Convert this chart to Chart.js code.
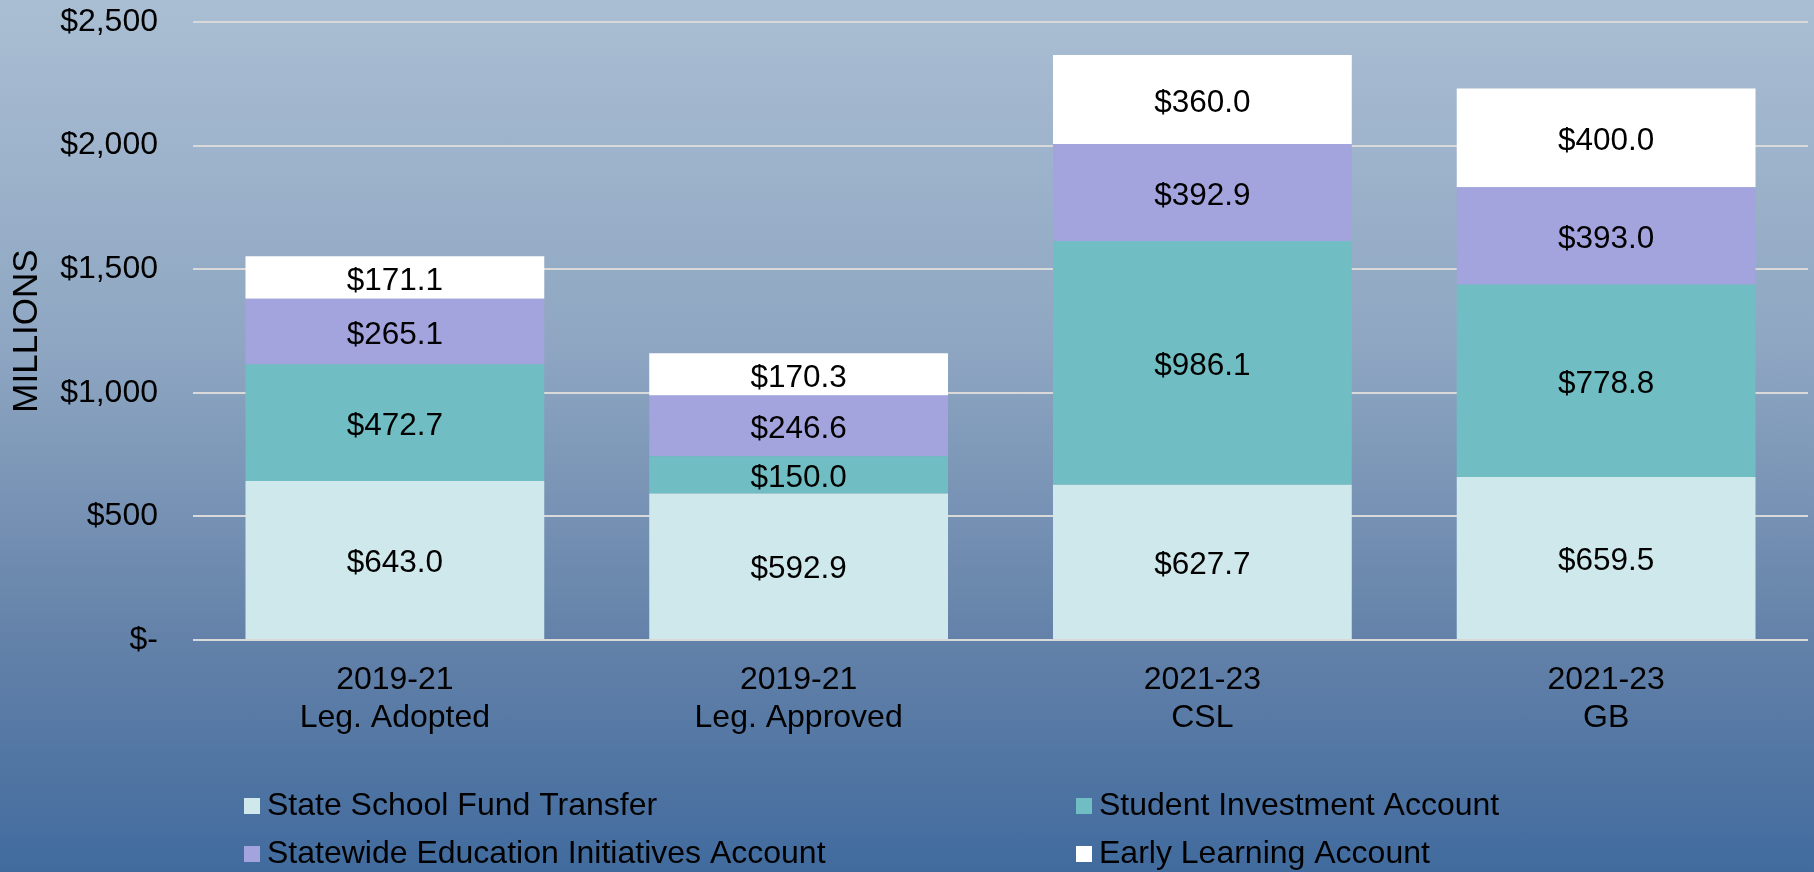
<!DOCTYPE html>
<html>
<head>
<meta charset="utf-8">
<script src="https://cdn.jsdelivr.net/npm/chart.js@4"></script>
<style>
    html, body { margin: 0; padding: 0; }
    body {
        width: 1814px;
        height: 872px;
        overflow: hidden;
        background: linear-gradient(to bottom, #aabed3 0%, #8ea6c2 40%, #6482a9 73%, #416b9e 100%);
    }
    #wrap { position: relative; width: 1814px; height: 872px; }
</style>
</head>
<body>
<div id="wrap"><canvas id="fundChart" width="1814" height="872"></canvas></div>
<script>
const categories = [
    ["2019-21", "Leg. Adopted"],
    ["2019-21", "Leg. Approved"],
    ["2021-23", "CSL"],
    ["2021-23", "GB"],
];
const seriesNames = [
    "State School Fund Transfer",
    "Student Investment Account",
    "Statewide Education Initiatives Account",
    "Early Learning Account",
];
const stateSchoolFund = [643.0, 592.9, 627.7, 659.5];
const studentInvestment = [472.7, 150.0, 986.1, 778.8];
const statewideInitiatives = [265.1, 246.6, 392.9, 393.0];
const earlyLearning = [171.1, 170.3, 360.0, 400.0];
const yTicks = [0, 500, 1000, 1500, 2000, 2500];
const seriesColors = ["#cfe8eb", "#70bec3", "#a3a3dd", "#ffffff"];

const FONT = "'Liberation Sans', Arial, sans-serif";

function money(v) {
    if (v === 0) return "$-";
    return "$" + v.toLocaleString("en-US");
}

// value labels in the middle of each segment
const segmentLabels = {
    id: "segmentLabels",
    afterDatasetsDraw(chart) {
        const ctx = chart.ctx;
        ctx.save();
        ctx.font = "31.5px " + FONT;
        ctx.fillStyle = "#000";
        ctx.textAlign = "center";
        ctx.textBaseline = "middle";
        chart.data.datasets.forEach((ds, i) => {
            chart.getDatasetMeta(i).data.forEach((bar, j) => {
                const mid = (bar.y + bar.base) / 2;
                ctx.fillText("$" + ds.data[j].toFixed(1), bar.x, mid + 3.5);
            });
        });
        ctx.restore();
    },
};

// two-column legend under the plot
const gridLegend = {
    id: "gridLegend",
    afterDraw(chart) {
        const ctx = chart.ctx;
        const cols = [244, 1076];
        const rows = [806, 854];
        ctx.save();
        ctx.font = "32px " + FONT;
        ctx.textBaseline = "middle";
        ctx.textAlign = "left";
        chart.data.datasets.forEach((ds, i) => {
            const x = cols[i % 2];
            const y = rows[Math.floor(i / 2)];
            ctx.fillStyle = ds.backgroundColor;
            ctx.fillRect(x, y - 8, 16, 16);
            ctx.fillStyle = "#000";
            ctx.fillText(ds.label, x + 23, y);
        });
        ctx.restore();
    },
};

const allSeries = [stateSchoolFund, studentInvestment, statewideInitiatives, earlyLearning];

new Chart(document.getElementById("fundChart"), {
    type: "bar",
    data: {
        labels: categories,
        datasets: allSeries.map((vals, i) => ({
            label: seriesNames[i],
            data: vals,
            backgroundColor: seriesColors[i],
            borderWidth: 0,
            categoryPercentage: 1,
            barPercentage: 0.74,
        })),
    },
    options: {
        responsive: false,
        animation: false,
        layout: { padding: { top: 22, right: 6, left: 6, bottom: 0 } },
        plugins: {
            legend: { display: false },
            tooltip: { enabled: false },
        },
        scales: {
            x: {
                stacked: true,
                grid: { display: false },
                border: { display: false },
                ticks: {
                    color: "#000",
                    font: { family: FONT, size: 32, lineHeight: 1.16 },
                    padding: 14,
                    maxRotation: 0,
                },
                afterFit(scale) { scale.height = 232; },
            },
            y: {
                stacked: true,
                min: 0,
                max: 2500,
                afterBuildTicks(scale) {
                    scale.ticks = yTicks.map((v) => ({ value: v }));
                },
                grid: { color: "#d9d9d9", lineWidth: 2, drawTicks: false },
                border: { display: false },
                ticks: {
                    color: "#000",
                    font: { family: FONT, size: 32 },
                    padding: 35,
                    callback: (v) => money(v),
                },
                title: {
                    display: true,
                    text: "MILLIONS",
                    color: "#000",
                    font: { family: FONT, size: 35 },
                    padding: 0,
                },
                afterFit(scale) {
                    scale.width = 187;
                    scale.paddingTop = 0;
                    scale.paddingBottom = 0;
                },
            },
        },
    },
    plugins: [segmentLabels, gridLegend],
});
</script>
</body>
</html>
